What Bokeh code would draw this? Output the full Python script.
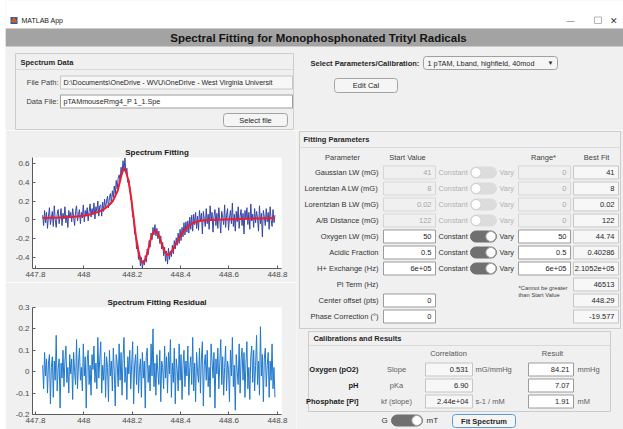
import numpy as np
from bokeh.plotting import figure
from bokeh.layouts import row, column
from bokeh.models import Range1d, FixedTicker, Spacer
from bokeh.core.properties import value
from bokeh.embed import file_html
from bokeh.resources import INLINE

FONT = "Liberation Sans"
BG = "#f0f0f0"

# ---------------- chart data ----------------
spectrum = [
    0.05, -0.06, 0.10, -0.03, 0.08, -0.09, 0.04, 0.13, -0.05, 0.02,
    0.09, -0.07, 0.15, 0.00, -0.08, 0.06, 0.11, -0.04, 0.03, 0.12,
    -0.06, 0.07, 0.01, 0.14, -0.03, 0.05, -0.08, 0.10, 0.02, 0.08,
    -0.02, 0.12, 0.03, -0.06, 0.09, 0.15, -0.01, 0.06, 0.11, -0.04,
    0.08, 0.02, 0.16, -0.02, 0.10, 0.04, 0.13, -0.01, 0.09, 0.17,
    0.03, 0.12, 0.06, 0.18, 0.01, 0.14, 0.09, 0.20, 0.04, 0.15,
    0.16, 0.04, 0.19, 0.09, 0.22, 0.12, 0.20, 0.25, 0.13, 0.24,
    0.28, 0.17, 0.31, 0.24, 0.36, 0.27, 0.42, 0.33, 0.44, 0.48,
    0.42, 0.56, 0.49, 0.63, 0.52, 0.66, 0.50, 0.55, 0.40, 0.43,
    0.36, 0.22, 0.20, 0.03, 0.02, -0.15, -0.14, -0.31, -0.25, -0.42,
    -0.35, -0.49, -0.40, -0.52, -0.43, -0.48, -0.38, -0.45, -0.31, -0.37,
    -0.22, -0.29, -0.14, -0.21, -0.08, -0.16, -0.05, -0.17, -0.09, -0.20,
    -0.12, -0.25, -0.17, -0.31, -0.24, -0.38, -0.29, -0.44, -0.33, -0.47,
    -0.30, -0.42, -0.33, -0.39, -0.27, -0.36, -0.22, -0.31, -0.19, -0.27,
    -0.14, -0.25, -0.10, -0.22, -0.08, -0.18, -0.03, -0.16, -0.02, -0.13,
    -0.01, -0.14, 0.03, -0.10, 0.05, -0.12, 0.06, -0.05, 0.08, -0.09,
    0.04, -0.11, 0.10, -0.02, 0.07, -0.15, 0.09, 0.01, -0.07, 0.12,
    -0.04, 0.06, -0.10, 0.15, -0.01, 0.08, -0.13, 0.04, 0.11, -0.06,
    0.07, -0.09, 0.13, 0.00, -0.14, 0.09, 0.03, -0.05, 0.16, -0.08,
    0.05, 0.12, -0.11, 0.02, 0.10, -0.04, 0.18, -0.07, 0.06, -0.12,
    0.09, -0.02, 0.14, -0.09, 0.04, 0.11, -0.06, 0.07, -0.15, 0.10,
    0.01, 0.13, -0.05, 0.08, -0.10, 0.17, -0.01, 0.06, -0.08, 0.12,
    -0.03, 0.09, 0.02, -0.12, 0.15, -0.04, 0.07, -0.18, 0.10, 0.03,
    -0.06, 0.12, -0.02, 0.08, -0.10, 0.14, 0.00, -0.07, 0.11, -0.03, 0.05,
]

residual = [
    0.03, -0.08, 0.09, -0.02, 0.06, -0.10, 0.04, 0.08, -0.15, 0.02,
    0.07, -0.12, 0.05, -0.04, 0.17, -0.09, 0.01, 0.06, -0.17, 0.04,
    -0.03, 0.10, -0.07, 0.05, 0.12, -0.05, 0.02, -0.10, 0.08, -0.01,
    0.06, -0.13, 0.09, 0.00, -0.06, 0.15, -0.08, 0.04, 0.11, -0.04,
    0.02, -0.09, 0.13, -0.02, 0.07, -0.17, 0.05, 0.10, -0.06, 0.03,
    -0.11, 0.08, 0.01, 0.12, -0.05, 0.04, -0.08, 0.16, -0.03, 0.06,
    0.14, -0.10, 0.03, -0.04, 0.09, -0.12, 0.07, 0.02, -0.14, 0.10,
    -0.02, 0.05, -0.09, 0.11, 0.00, -0.16, 0.08, 0.04, -0.07, 0.13,
    -0.04, 0.09, -0.11, 0.06, 0.16, -0.05, 0.02, -0.13, 0.07, -0.01,
    0.10, -0.08, 0.04, 0.14, -0.15, 0.03, 0.08, -0.06, 0.12, -0.10,
    0.01, 0.06, -0.12, 0.09, -0.03, 0.05, -0.17, 0.07, 0.11, -0.05,
    0.03, -0.09, 0.13, -0.02, 0.20, -0.07, 0.04, -0.11, 0.08, 0.00,
    -0.06, 0.10, -0.14, 0.05, 0.02, -0.08, 0.12, -0.03, 0.07, -0.10,
    0.09, -0.01, 0.15, -0.12, 0.04, -0.05, 0.11, -0.15, 0.06, 0.01,
    -0.09, 0.13, -0.04, 0.08, -0.13, 0.03, 0.10, -0.07, 0.05, -0.02,
    0.12, -0.11, 0.02, 0.07, -0.06, 0.16, -0.09, 0.04, -0.14, 0.09,
    0.00, -0.05, 0.11, -0.10, 0.06, 0.14, -0.16, 0.03, 0.08, -0.04,
    0.10, -0.07, 0.02, -0.12, 0.13, 0.05, -0.03, 0.09, -0.17, 0.06,
    -0.01, 0.11, -0.08, 0.04, 0.15, -0.06, 0.07, -0.11, 0.02, 0.12,
    -0.09, 0.05, 0.01, -0.14, 0.10, -0.02, 0.16, -0.07, 0.03, -0.18,
    0.08, 0.00, -0.06, 0.13, -0.10, 0.06, 0.11, -0.04, 0.09, -0.12,
    0.04, 0.14, -0.08, 0.02, -0.13, 0.07, 0.12, -0.05, 0.10, -0.09,
    0.03, 0.17, -0.06, 0.05, -0.11, 0.21, -0.02, 0.08, -0.14, 0.06,
    0.11, -0.07, 0.03, 0.09, -0.12, 0.05, -0.04, 0.13, -0.08, 0.02, -0.12,
]

fit_field = [447.83, 447.90, 447.95, 448.00, 448.03, 448.06, 448.08, 448.10, 448.12, 448.14,
             448.155, 448.165, 448.175, 448.185, 448.195, 448.205, 448.215, 448.225, 448.235, 448.245,
             448.255, 448.265, 448.275, 448.285, 448.295, 448.305, 448.315, 448.325, 448.335, 448.345,
             448.355, 448.365, 448.38, 448.395, 448.41, 448.425, 448.44, 448.46, 448.48, 448.52,
             448.58, 448.65, 448.72, 448.79]
fit_values = [0.020, 0.025, 0.032, 0.045, 0.060, 0.085, 0.110, 0.145, 0.200, 0.310,
              0.470, 0.550, 0.510, 0.410, 0.250, 0.040, -0.170, -0.320, -0.430, -0.455,
              -0.420, -0.330, -0.220, -0.140, -0.115, -0.135, -0.200, -0.280, -0.340, -0.370,
              -0.365, -0.330, -0.260, -0.190, -0.130, -0.085, -0.050, -0.025, -0.010, 0.000,
              0.005, 0.010, 0.015, 0.020]

field_first, field_last = 447.83, 448.79
spec_field = np.linspace(field_first, field_last, len(spectrum))
res_field = np.linspace(field_first, field_last, len(residual))

x_limits = (447.788, 448.817)
x_ticks = [447.8, 448.0, 448.2, 448.4, 448.6, 448.8]
x_tick_labels = ["447.8", "448", "448.2", "448.4", "448.6", "448.8"]
spec_y_limits = (-0.517, 0.664)
spec_y_ticks = [-0.4, -0.2, 0.0, 0.2, 0.4, 0.6]
spec_y_labels = ["-0.4", "-0.2", "0", "0.2", "0.4", "0.6"]
res_y_limits = (-0.2, 0.3)
res_y_ticks = [-0.2, -0.1, 0.0, 0.1, 0.2, 0.3]
res_y_labels = ["-0.2", "-0.1", "0", "0.1", "0.2", "0.3"]

# ---------------- app texts / values ----------------
param_names = ["Gaussian LW (mG)", "Lorentzian A LW (mG)", "Lorentzian B LW (mG)", "A/B Distance (mG)",
               "Oxygen LW (mG)", "Acidic Fraction", "H+ Exchange (Hz)", "Pi Term (Hz)",
               "Center offset (pts)", "Phase Correction (°)"]
start_values = ["41", "8", "0.02", "122", "50", "0.5", "6e+05", None, "0", "0"]
range_values = ["0", "0", "0", "0", "50", "0.5", "6e+05", None, None, None]
best_fit_values = ["41", "8", "0.02", "122", "44.74", "0.40286", "2.1052e+05", "46513", "448.29", "-19.577"]
param_vary = [False, False, False, False, True, True, True, None, None, None]

cal_names = ["Oxygen (pO2)", "pH", "Phosphate [Pi]"]
cal_params = ["Slope", "pKa", "kf (slope)"]
cal_corr = ["0.531", "6.90", "2.44e+04"]
cal_corr_units = ["mG/mmHg", "", "s-1 / mM"]
cal_result = ["84.21", "7.07", "1.91"]
cal_result_units = ["mmHg", "", "mM"]


# ---------------- helpers ----------------
def ui_fig(w, h, x0, x1, y0, y1, bg=BG):
    p = figure(width=w, height=h, x_range=Range1d(x0, x1), y_range=Range1d(y1, y0),
               output_backend="svg", toolbar_location=None, x_axis_type=None, y_axis_type=None,
               min_border=0, background_fill_color=bg, border_fill_color=bg, outline_line_color=None)
    p.grid.visible = False
    return p


def T(p, x, y, s, size=7.5, align="left", color="#262626", bold=False):
    p.text(x=[x], y=[y], text=[s], text_font=value(FONT), text_font_size=f"{size}px",
           text_align=align, text_baseline="middle", text_color=color,
           text_font_style="bold" if bold else "normal")


def B(p, l, r, t, b, fill, line, radius=0, lw=1):
    p.quad(left=[l], right=[r], top=[t], bottom=[b], fill_color=fill, line_color=line,
           line_width=lw, border_radius=radius)


def H(p, x0, x1, y, color="#d0d0d0"):
    p.segment(x0=[x0], y0=[y], x1=[x1], y1=[y], line_color=color, line_width=1)


def toggle(p, l, r, yc, on, enabled=True):
    track = "#707070" if enabled else "#dcdcdc"
    B(p, l, r, yc - 5.5, yc + 5.5, track, track, radius=6)
    kx = r - 5.6 if on else l + 5.6
    p.scatter([kx], [yc], marker="circle", size=10, fill_color="white",
              line_color="#a8a8a8" if enabled else "#d0d0d0", line_width=1)


def edit(p, l, r, yc, s, enabled=True, readonly=False, size=7.5, align="right"):
    if readonly:
        fill, line, col = "#f7f7f7", "#c6c6c6", "#262626"
    elif enabled:
        fill, line, col = "white", "#9c9c9c", "#262626"
    else:
        fill, line, col = "#f0f0f0", "#d6d6d6", "#a6a6a6"
    B(p, l, r, yc - 6.5, yc + 6.5, fill, line)
    if s is not None:
        if align == "right":
            T(p, r - 4, yc, s, size=size, align="right", color=col)
        else:
            T(p, l + 3, yc, s, size=size, align="left", color=col)


def button(p, l, r, t, b, s, line="#a3a3a3", bold=False):
    B(p, l, r, t, b, "#f5f5f5", line, radius=3)
    T(p, (l + r) / 2, (t + b) / 2, s, size=7.5, align="center", bold=bold)


# ---------------- top section: window bar, header, spectrum data, selectors ----------------
top = ui_fig(618, 130, 5, 623, 0, 130)
B(top, 5, 623, 0, 28, "white", None)
B(top, 5, 623, 28, 46, "#a3a3a3", None)
B(top, 10, 17, 16.5, 23.5, "#1f5fa8", None)
top.scatter([13.5], [20], marker="triangle", size=7, fill_color="#e05a1c", line_color=None)
T(top, 21, 20, "MATLAB App", size=7, color="#1a1a1a")
T(top, 570, 19.5, "—", size=8, align="center", color="#555555")
B(top, 594, 601, 16.5, 23, None, "#b4b4b4")
T(top, 613, 20, "✕", size=9, align="center", color="#333333")
T(top, 318, 37.5, "Spectral Fitting for Monophosphonated Trityl Radicals", size=11.5,
  align="center", color="#141414", bold=True)

# spectrum data panel
B(top, 15, 293, 53, 129, BG, "#cccccc")
H(top, 15, 293, 69, "#d8d8d8")
T(top, 20, 61.5, "Spectrum Data", size=7.5, bold=True)
T(top, 58, 82, "File Path:", size=7.5, align="right", color="#404040")
edit(top, 60, 292, 82, "D:\\Documents\\OneDrive - WVU\\OneDrive - West Virginia Universit",
     readonly=True, size=7.1, align="left")
T(top, 58, 101, "Data File:", size=7.5, align="right", color="#404040")
edit(top, 60, 292, 101, "pTAMmouseRmg4_P 1_1.Spe", size=7.2, align="left")
button(top, 223, 287, 113, 126, "Select file")

# selectors
T(top, 310, 62.5, "Select Parameters/Calibration:", size=7.5, bold=True)
B(top, 423, 557, 56, 69, "#f5f5f5", "#a0a0a0", radius=3)
T(top, 427, 62.5, "1 pTAM, Lband, highfield, 40mod", size=7.3, color="#262626")
T(top, 550, 62.5, "▼", size=6, align="center", color="#262626")
button(top, 334, 397, 78, 92, "Edit Cal")


# ---------------- plots ----------------
def spectrum_axes(h, ylim, top_border, bottom_border, title, yt, yl):
    p = figure(width=291, height=h, x_range=Range1d(*x_limits), y_range=Range1d(*ylim),
               output_backend="svg", toolbar_location=None, title=title,
               min_border_left=27, min_border_right=15, min_border_top=top_border,
               min_border_bottom=bottom_border, background_fill_color="white",
               border_fill_color=BG, outline_line_color=None)
    p.title.align = "center"
    p.title.text_font = FONT
    p.title.text_font_size = "8px"
    p.title.text_font_style = "bold"
    p.title.text_color = "#1a1a1a"
    p.title.standoff = 2
    p.grid.visible = False
    p.xaxis.ticker = FixedTicker(ticks=x_ticks)
    p.xaxis.major_label_overrides = dict(zip(x_ticks, x_tick_labels))
    p.yaxis.ticker = FixedTicker(ticks=yt)
    p.yaxis.major_label_overrides = dict(zip(yt, yl))
    p.axis.axis_line_color = "#5a5a5a"
    p.axis.major_tick_line_color = "#5a5a5a"
    p.axis.minor_tick_line_color = None
    p.axis.major_tick_in = 3
    p.axis.major_tick_out = 0
    p.axis.major_label_standoff = 3
    p.axis.major_label_text_font = FONT
    p.axis.major_label_text_font_size = "8px"
    p.axis.major_label_text_color = "#4a4a4a"
    return p


p1 = spectrum_axes(152, spec_y_limits, 27, 14, "Spectrum Fitting", spec_y_ticks, spec_y_labels)
p1.line(spec_field, spectrum, line_color="#3545a6", line_width=1)
p1.line(fit_field, fit_values, line_color="#ee1c2e", line_width=2)

p2 = spectrum_axes(147, res_y_limits, 25, 15, "Spectrum Fitting Residual", res_y_ticks, res_y_labels)
p2.line(res_field, residual, line_color="#1f78cc", line_width=1)

# ---------------- right side: parameters & results ----------------
rp = ui_fig(327, 299, 296, 623, 130, 429)

# Fitting parameters panel
B(rp, 299, 620, 131, 328, BG, "#cccccc")
H(rp, 299, 620, 147, "#d8d8d8")
T(rp, 303, 139, "Fitting Parameters", size=7.5, bold=True)
T(rp, 342, 157, "Parameter", size=7.5, align="center", color="#404040")
T(rp, 407, 157, "Start Value", size=7.5, align="center", color="#404040")
T(rp, 543, 157, "Range*", size=7.5, align="center", color="#404040")
T(rp, 596, 157, "Best Fit", size=7.5, align="center", color="#404040")

for i, name in enumerate(param_names):
    yc = 172 + 16 * i
    vary = param_vary[i]
    T(rp, 378, yc, name, size=7.5, align="right", color="#333333")
    if start_values[i] is not None:
        edit(rp, 383, 435, yc, start_values[i], enabled=(vary is not False))
    if vary is not None:
        lab = "#333333" if vary else "#b0b0b0"
        T(rp, 438, yc, "Constant", size=7.3, color=lab)
        toggle(rp, 470, 496, yc, on=vary, enabled=vary)
        T(rp, 499, yc, "Vary", size=7.3, color=lab)
    if range_values[i] is not None:
        edit(rp, 518, 570, yc, range_values[i], enabled=bool(vary))
    edit(rp, 573, 618, yc, best_fit_values[i], readonly=True)

T(rp, 518, 287, "*Cannot be greater", size=5.8, color="#404040")
T(rp, 518, 294, "than Start Value", size=5.8, color="#404040")

# Calibrations and results panel
B(rp, 308, 610, 331, 411, BG, "#cccccc")
H(rp, 308, 610, 345, "#d8d8d8")
T(rp, 313, 338, "Calibrations and Results", size=7.5, bold=True)
T(rp, 448, 353, "Correlation", size=7.5, align="center", color="#555555")
T(rp, 552, 353, "Result", size=7.5, align="center", color="#555555")
for j, nm in enumerate(cal_names):
    yc = 369 + 16 * j
    T(rp, 358, yc, nm, size=7.5, align="right", bold=True, color="#1a1a1a")
    T(rp, 396, yc, cal_params[j], size=7.5, align="center", color="#606060")
    edit(rp, 425, 472, yc, cal_corr[j], readonly=True)
    T(rp, 475, yc, cal_corr_units[j], size=7.5, color="#606060")
    edit(rp, 528, 573, yc, cal_result[j])
    T(rp, 577, yc, cal_result_units[j], size=7.5, color="#606060")

# bottom controls
T(rp, 384, 420, "G", size=8, align="center", color="#333333")
toggle(rp, 391, 422, 420, on=True, enabled=True)
T(rp, 426, 420, "mT", size=8, color="#333333")
button(rp, 452, 515, 414, 427, "Fit Spectrum", line="#5b9bd5", bold=True)

layout = row(Spacer(width=5, height=429),
             column(top, row(column(p1, p2), rp)))

open("out.html", "w").write(file_html(layout, INLINE))
